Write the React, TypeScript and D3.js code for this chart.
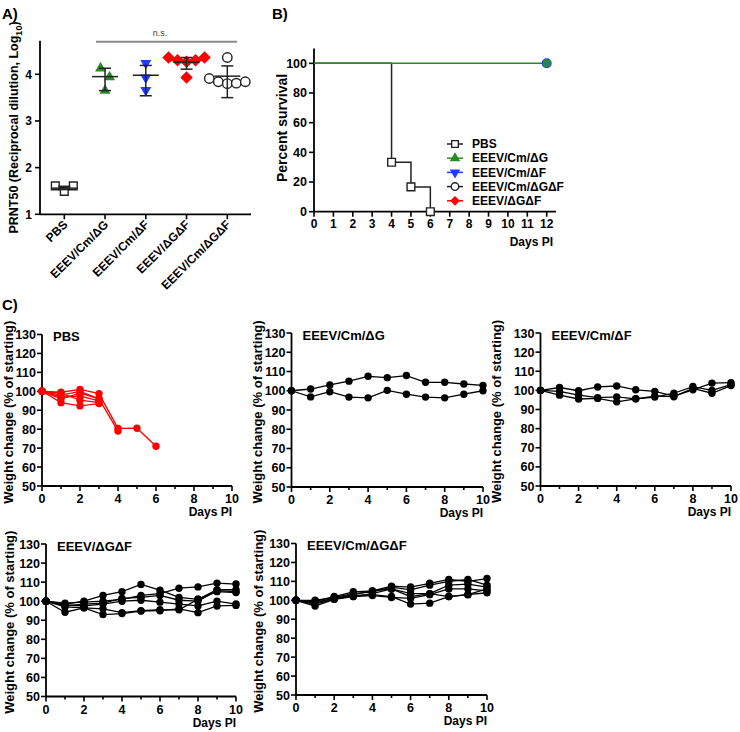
import React from "react";
import * as d3 from "d3";

// ---------- Panel A data ----------
const prntCategories = ["PBS", "EEEV/Cm/ΔG", "EEEV/Cm/ΔF", "EEEV/ΔGΔF", "EEEV/Cm/ΔGΔF"];
const prntPoints = [
  [1.61, 1.49, 1.61],
  [4.13, 3.94, 3.65],
  [4.24, 3.93, 3.66],
  [4.36, 4.3, 4.27, 4.3, 4.36, 3.93],
  [4.36, 3.91, 3.84, 3.8, 3.81, 3.84],
];
const prntMean = [1.56, 3.95, 3.98, 4.26, 3.96];
const prntLow = [1.53, 3.65, 3.54, 4.11, 3.5];
const prntHigh = [1.6, 4.13, 4.19, 4.36, 4.18];
const prntTicks = [1, 2, 3, 4];

// ---------- Panel B data ----------
const survivalGroups = ["PBS", "EEEV/Cm/ΔG", "EEEV/Cm/ΔF", "EEEV/Cm/ΔGΔF", "EEEV/ΔGΔF"];
const pbsSurvDays = [0, 4, 5, 6];
const pbsSurvPct = [100, 33.3, 16.7, 0];
const vaccSurvDays = [0, 12];
const vaccSurvPct = [100, 100];
const survXTicks = [0, 1, 2, 3, 4, 5, 6, 7, 8, 9, 10, 11, 12];
const survYTicks = [0, 20, 40, 60, 80, 100];

// ---------- Panel C data (weight % by day 0..10, one array per mouse) ----------
const weightPBS = [
  [100, 99.5, 101, 98.8, 80.4, 80.5, 71],
  [100, 98, 100, 96, 79],
  [100, 97, 97.5, 95],
  [100, 99, 95.3, 94],
  [100, 94, 92.3, 93.5],
  [100, 96, 99, 96],
];
const weightCmG = [
  [100, 100.9, 103, 105, 107.5, 106.8, 107.9, 104.4, 104.4, 103.5, 102.8],
  [100, 96.8, 99.5, 96.7, 96.3, 100.2, 98.2, 96.7, 96.3, 98.2, 100],
];
const weightCmF = [
  [100, 101.5, 99.8, 101.8, 102.3, 100.3, 99.5, 97, 100.3, 103.8, 104],
  [100, 99.5, 97.5, 96.2, 96.6, 95.6, 96.5, 98.5, 102, 100, 103],
  [100, 97.5, 95.5, 95.8, 94, 95.6, 97, 96.7, 101, 98.5, 102.5],
];
const weightGF = [
  [100, 98.5, 100, 103, 105, 108.8, 105.8, 102, 101, 106, 106],
  [100, 99, 99.5, 100, 101, 103, 104, 106.8, 107.5, 109.5, 109],
  [100, 97.5, 98.5, 99, 101.5, 102, 103, 100.5, 100, 105.5, 105],
  [100, 98, 97.5, 98.5, 100, 100.5, 99.5, 98.5, 97.5, 100, 98.5],
  [100, 94.2, 96.5, 96, 94, 95, 95.5, 95.5, 101, 105, 104.5],
  [100, 97, 96.5, 93, 93.5, 94.8, 95, 96, 94, 97.5, 97.8],
];
const weightCmGF = [
  [100, 99.5, 102, 104.5, 105, 107.5, 107, 109, 111, 110, 111.5],
  [100, 100, 101.5, 103.5, 104.5, 107, 105.5, 108, 110, 111, 108],
  [100, 98.5, 101, 103, 105, 106, 103.5, 103.5, 108, 108.5, 107],
  [100, 97, 100.5, 102.5, 103, 102, 98, 98.5, 102, 103, 106],
  [100, 99, 101, 102, 102.5, 101.5, 101, 103, 106, 106, 105],
  [100, 98, 100.5, 102, 103.5, 106, 102, 103.5, 102, 103, 104],
];
const weightYTicks = [50, 60, 70, 80, 90, 100, 110, 120, 130];
const weightXTicks = [0, 1, 2, 3, 4, 5, 6, 7, 8, 9, 10];

const FONT = "'Liberation Sans', Arial, Helvetica, sans-serif";
const GREEN = "#2a8a2a";
const BLUE = "#1f3cff";
const RED = "#ff0000";

function symbolPath(kind: string, size: number) {
  const map: any = {
    square: d3.symbolSquare,
    triangle: d3.symbolTriangle,
    circle: d3.symbolCircle,
    diamond: d3.symbolSquare,
  };
  return d3.symbol().type(map[kind]).size(size)() as string;
}

function Marker({ kind, x, y, fill, stroke, size }: any) {
  let rot = 0;
  if (kind === "diamond") rot = 45;
  if (kind === "tdown") rot = 180;
  const k = kind === "tdown" ? "triangle" : kind;
  return (
    <path
      d={symbolPath(k, size)}
      transform={`translate(${x},${y}) rotate(${rot})`}
      fill={fill}
      stroke={stroke}
      strokeWidth={1.4}
    />
  );
}

function dodge(values: number[], thr: number) {
  // cluster consecutive close values, spread within cluster
  const groups: number[][] = [];
  values.forEach((v, i) => {
    const g = groups[groups.length - 1];
    if (g && Math.abs(values[g[g.length - 1]] - v) < thr) g.push(i);
    else groups.push([i]);
  });
  const off = new Array(values.length).fill(0);
  groups.forEach((g) => g.forEach((idx, j) => (off[idx] = j - (g.length - 1) / 2)));
  return off;
}

function PanelA() {
  const x = d3.scalePoint().domain(prntCategories).range([64.3, 227.3]);
  const y = d3.scaleLinear().domain([1, 4.72]).range([214.3, 40.7]);
  const styles = [
    { kind: "square", fill: "#fff", stroke: "#222", size: 60 },
    { kind: "triangle", fill: GREEN, stroke: GREEN, size: 32 },
    { kind: "tdown", fill: BLUE, stroke: BLUE, size: 32 },
    { kind: "diamond", fill: RED, stroke: RED, size: 55 },
    { kind: "circle", fill: "#fff", stroke: "#222", size: 70 },
  ];
  return (
    <g>
      <text x={2} y={19} fontSize={15} fontWeight="bold">A)</text>
      {/* n.s. */}
      <line x1={96} x2={237} y1={41.7} y2={41.7} stroke="#8a8a8a" strokeWidth={2} />
      <text x={160} y={36} fontSize={9} textAnchor="middle" fill="#444" fontWeight="normal">n.s.</text>
      {/* axes */}
      <line x1={40} x2={40} y1={y(4.72)} y2={y(1)} stroke="#000" strokeWidth={1.8} />
      <line x1={40} x2={251} y1={y(1)} y2={y(1)} stroke="#000" strokeWidth={1.8} />
      {prntTicks.map((t) => (
        <g key={t}>
          <line x1={35} x2={40} y1={y(t)} y2={y(t)} stroke="#000" strokeWidth={1.6} />
          <text x={32} y={y(t)} dy="0.35em" textAnchor="end" fontSize={12} fontWeight="bold">{t}</text>
        </g>
      ))}
      {prntCategories.map((c) => (
        <g key={c}>
          <line x1={x(c)} x2={x(c)} y1={y(1)} y2={y(1) + 5} stroke="#000" strokeWidth={1.6} />
          <text
            transform={`translate(${(x(c) as number) + 4},${y(1) + 11}) rotate(-45)`}
            textAnchor="end"
            fontSize={12}
            fontWeight="bold"
          >
            {c}
          </text>
        </g>
      ))}
      <text
        transform={`translate(18,${127.5}) rotate(-90)`}
        textAnchor="middle"
        fontSize={12.5}
        fontWeight="bold"
      >
        PRNT50 (Reciprocal dilution, Log<tspan fontSize={9} dy={4}>10</tspan><tspan dy={-4}>)</tspan>
      </text>
      {/* points */}
      {prntPoints.map((vals, gi) => {
        const off = dodge(vals, 0.2);
        const cx = x(prntCategories[gi]) as number;
        const s = styles[gi];
        return (
          <g key={gi}>
            {vals.map((v, i) => (
              <Marker key={i} kind={s.kind} x={cx + off[i] * 9} y={y(v)} fill={s.fill} stroke={s.stroke} size={s.size} />
            ))}
          </g>
        );
      })}
      {/* mean & error */}
      {prntCategories.map((c, gi) => {
        const cx = x(c) as number;
        return (
          <g key={c} stroke="#222" strokeWidth={1.5}>
            <line x1={cx - 13} x2={cx + 13} y1={y(prntMean[gi])} y2={y(prntMean[gi])} />
            <line x1={cx} x2={cx} y1={y(prntLow[gi])} y2={y(prntHigh[gi])} />
            <line x1={cx - 6} x2={cx + 6} y1={y(prntLow[gi])} y2={y(prntLow[gi])} />
            <line x1={cx - 6} x2={cx + 6} y1={y(prntHigh[gi])} y2={y(prntHigh[gi])} />
          </g>
        );
      })}
    </g>
  );
}

function PanelB() {
  const x = d3.scaleLinear().domain([0, 12]).range([314, 546.7]);
  const y = d3.scaleLinear().domain([0, 110]).range([211.7, 48.5]);
  const stepLine = d3.line<number>().x((_, i) => x(pbsSurvDays[i])).y((d) => y(d)).curve(d3.curveStepAfter);
  const flatLine = d3.line<number>().x((_, i) => x(vaccSurvDays[i])).y((d) => y(d));
  const legendStyles = [
    { kind: "square", fill: "#fff", stroke: "#222", line: "#222" },
    { kind: "triangle", fill: GREEN, stroke: GREEN, line: GREEN },
    { kind: "tdown", fill: BLUE, stroke: BLUE, line: BLUE },
    { kind: "circle", fill: "#fff", stroke: "#222", line: "#222" },
    { kind: "diamond", fill: RED, stroke: RED, line: RED },
  ];
  return (
    <g>
      <text x={272} y={19} fontSize={15} fontWeight="bold">B)</text>
      <line x1={x(0)} x2={x(0)} y1={y(110)} y2={y(0)} stroke="#000" strokeWidth={1.8} />
      <line x1={x(0)} x2={556} y1={y(0)} y2={y(0)} stroke="#000" strokeWidth={1.8} />
      {survYTicks.map((t) => (
        <g key={t}>
          <line x1={x(0) - 5} x2={x(0)} y1={y(t)} y2={y(t)} stroke="#000" strokeWidth={1.6} />
          <text x={x(0) - 7} y={y(t)} dy="0.35em" textAnchor="end" fontSize={12.5} fontWeight="bold">{t}</text>
        </g>
      ))}
      {survXTicks.map((t) => (
        <g key={t}>
          <line x1={x(t)} x2={x(t)} y1={y(0)} y2={y(0) + 5} stroke="#000" strokeWidth={1.6} />
          <text x={x(t)} y={y(0) + 16} textAnchor="middle" fontSize={12} fontWeight="bold">{t}</text>
        </g>
      ))}
      <text x={553} y={246} textAnchor="end" fontSize={12} fontWeight="bold">Days PI</text>
      <text transform={`translate(287,128) rotate(-90)`} textAnchor="middle" fontSize={14} fontWeight="bold">
        Percent survival
      </text>
      <path d={stepLine(pbsSurvPct) as string} fill="none" stroke="#222" strokeWidth={1.5} />
      <path d={flatLine(vaccSurvPct) as string} fill="none" stroke={GREEN} strokeWidth={1.5} />
      {pbsSurvPct.map((v, i) =>
        i === 0 ? null : (
          <Marker key={i} kind="square" x={x(pbsSurvDays[i])} y={y(v)} fill="#fff" stroke="#222" size={60} />
        )
      )}
      <circle cx={x(vaccSurvDays[1])} cy={y(vaccSurvPct[1])} r={5} fill={BLUE} />
      <circle cx={x(vaccSurvDays[1])} cy={y(vaccSurvPct[1])} r={4} fill={GREEN} />
      {survivalGroups.map((g, i) => {
        const s = legendStyles[i];
        const ly = 144 + i * 14.2;
        return (
          <g key={g}>
            <line x1={447} x2={463} y1={ly} y2={ly} stroke={s.line} strokeWidth={1.5} />
            <Marker kind={s.kind} x={455} y={ly} fill={s.fill} stroke={s.stroke} size={s.kind === "diamond" ? 30 : s.kind === "square" || s.kind === "circle" ? 45 : 28} />
            <text x={472} y={ly} dy="0.35em" fontSize={12} fontWeight="bold">{g}</text>
          </g>
        );
      })}
    </g>
  );
}

function WeightPanel({ x0, x1, yTop, yBot, title, series, color, labelX }: any) {
  const x = d3.scaleLinear().domain([0, 10]).range([x0, x1]);
  const y = d3.scaleLinear().domain([50, 130]).range([yBot, yTop]);
  const line = d3.line<number>().x((_, i) => x(i)).y((d) => y(d));
  return (
    <g>
      <line x1={x0} x2={x0} y1={yTop} y2={yBot} stroke="#000" strokeWidth={1.8} />
      <line x1={x0} x2={x1} y1={yBot} y2={yBot} stroke="#000" strokeWidth={1.8} />
      {weightYTicks.map((t) => (
        <g key={t}>
          <line x1={x0 - 5} x2={x0} y1={y(t)} y2={y(t)} stroke="#000" strokeWidth={1.6} />
          <text x={x0 - 6} y={y(t)} dy="0.36em" textAnchor="end" fontSize={12.5} fontWeight="bold">{t}</text>
        </g>
      ))}
      {weightXTicks.map((t) => (
        <g key={t}>
          <line x1={x(t)} x2={x(t)} y1={yBot} y2={yBot + (t % 2 === 0 ? 5 : 3)} stroke="#000" strokeWidth={1.6} />
          {t % 2 === 0 ? (
            <text x={x(t)} y={yBot + 17} textAnchor="middle" fontSize={12.5} fontWeight="bold">{t}</text>
          ) : null}
        </g>
      ))}
      <text x={x1} y={yBot + 30} textAnchor="end" fontSize={12} fontWeight="bold">Days PI</text>
      <text
        transform={`translate(${labelX},${(yTop + yBot) / 2 + 2}) rotate(-90)`}
        textAnchor="middle"
        dy="0.35em"
        fontSize={13}
        fontWeight="bold"
      >
        Weight change (% of starting)
      </text>
      <text x={x0 + 11} y={yTop + 2} dy="0.35em" fontSize={13} fontWeight="bold">{title}</text>
      {series.map((s: number[], i: number) => (
        <path key={i} d={line(s) as string} fill="none" stroke={color} strokeWidth={1.3} />
      ))}
      {series.map((s: number[], i: number) =>
        s.map((v, j) => <circle key={i + "-" + j} cx={x(j)} cy={y(v)} r={3.7} fill={color} />)
      )}
    </g>
  );
}

export default function App() {
  return (
    <svg
      width={740}
      height={732}
      style={{ position: "absolute", left: 0, top: 0, display: "block", background: "#fff" }}
      fontFamily={FONT}
    >
      <rect width={740} height={732} fill="#fff" />
      <PanelA />
      <PanelB />
      <text x={2} y={310} fontSize={15} fontWeight="bold">C)</text>
      <WeightPanel x0={42} x1={232} yTop={334.5} yBot={486} title="PBS" series={weightPBS} color={RED} labelX={8} />
      <WeightPanel x0={291.5} x1={483} yTop={333} yBot={487} title="EEEV/Cm/ΔG" series={weightCmG} color="#000" labelX={257} />
      <WeightPanel x0={540.5} x1={731} yTop={333} yBot={486} title="EEEV/Cm/ΔF" series={weightCmF} color="#000" labelX={496} />
      <WeightPanel x0={46} x1={236} yTop={544} yBot={696.5} title="EEEV/ΔGΔF" series={weightGF} color="#000" labelX={9} />
      <WeightPanel x0={296} x1={487} yTop={543.5} yBot={695} title="EEEV/Cm/ΔGΔF" series={weightCmGF} color="#000" labelX={258} />
    </svg>
  );
}
